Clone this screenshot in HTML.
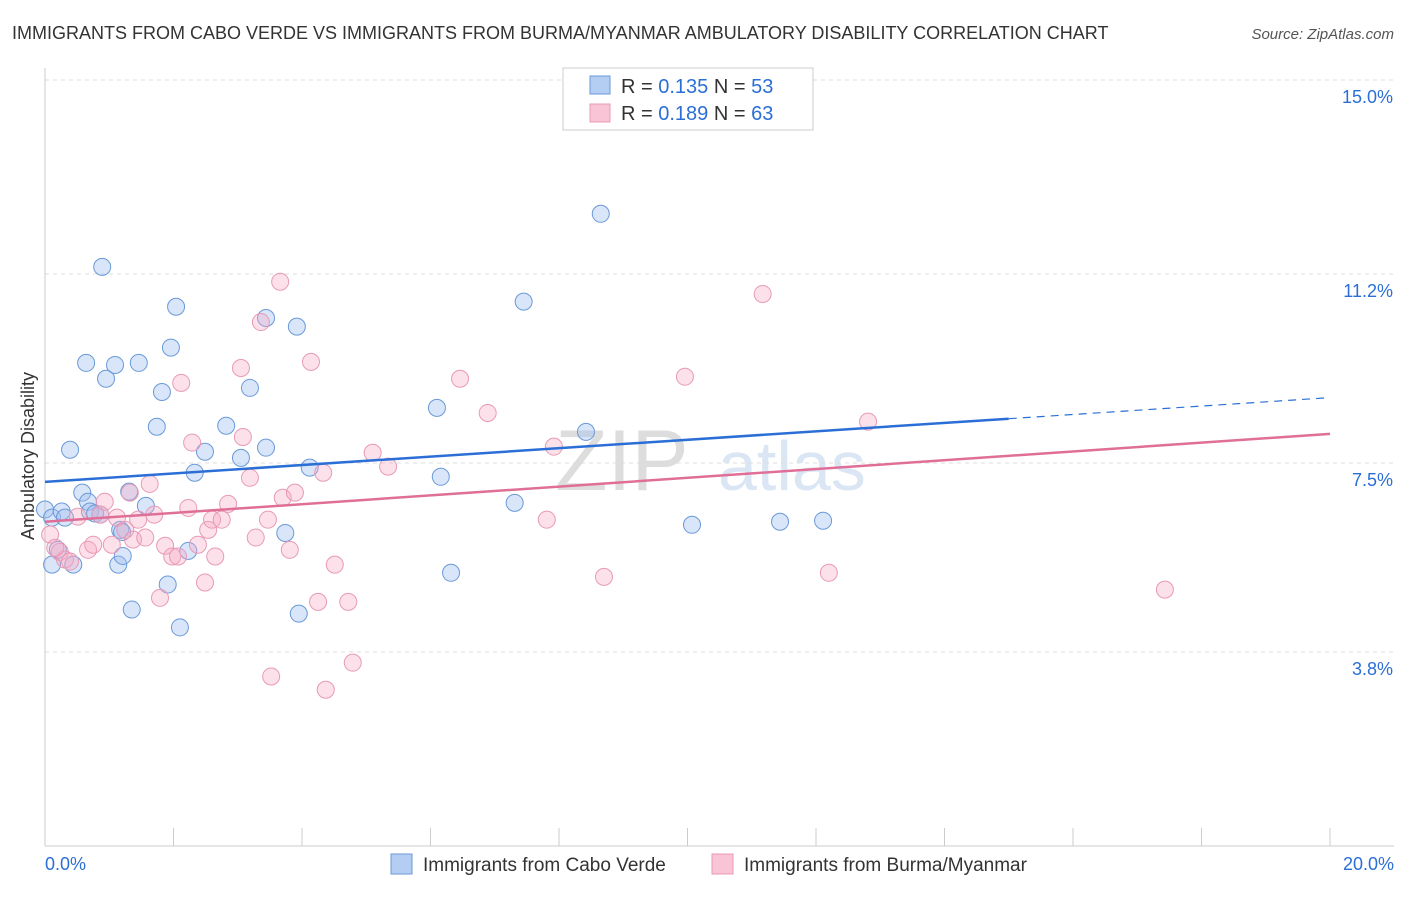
<!DOCTYPE html>
<html><head><meta charset="utf-8"><style>
body{margin:0;background:#fff;font-family:"Liberation Sans",sans-serif}
svg text{font-family:"Liberation Sans",sans-serif}
</style></head><body>
<svg id="chart" width="1406" height="892" xmlns="http://www.w3.org/2000/svg">
<text x="12" y="39" font-size="18" fill="#333">IMMIGRANTS FROM CABO VERDE VS IMMIGRANTS FROM BURMA/MYANMAR AMBULATORY DISABILITY CORRELATION CHART</text>
<text x="1394" y="39" font-size="15" fill="#555" text-anchor="end" font-style="italic">Source: ZipAtlas.com</text>
<g>
<text x="555" y="490" font-size="86" fill="#ddd" font-family="Liberation Serif">ZIP</text>
<text x="718" y="490" font-size="70" fill="#dbe6f5">atlas</text>
</g>
<g id="grid"></g>
<g id="axes"></g>
<g id="marks"></g>
<text transform="translate(34,456) rotate(-90)" font-size="18" fill="#333" text-anchor="middle">Ambulatory Disability</text>
<g>
<rect x="563" y="68" width="250" height="62" fill="#fff" stroke="#ccc"/>
<rect x="590" y="76" width="20" height="18" fill="#b4cdf2" stroke="#6a9ad8"/>
<text x="621" y="93" font-size="20" fill="#333">R = <tspan fill="#2b6fd6">0.135</tspan>   N = <tspan fill="#2b6fd6">53</tspan></text>
<rect x="590" y="104" width="20" height="18" fill="#f8c4d6" stroke="#e89ab5"/>
<text x="621" y="120" font-size="20" fill="#333">R = <tspan fill="#2b6fd6">0.189</tspan>   N = <tspan fill="#2b6fd6">63</tspan></text>
</g>
<g>
<rect x="391" y="854" width="21" height="20" fill="#b4cdf2" stroke="#6a9ad8"/>
<text x="423" y="871" font-size="19" fill="#333">Immigrants from Cabo Verde</text>
<rect x="712" y="854" width="21" height="20" fill="#f8c4d6" stroke="#e89ab5"/>
<text x="744" y="871" font-size="19" fill="#333">Immigrants from Burma/Myanmar</text>
</g>
</svg>
<script>
const yTicks=[15.0,11.2,7.5,3.8];
const yTickLabels=["15.0%","11.2%","7.5%","3.8%"];
const xTickLabels=["0.0%","20.0%"];
const blueX=[0.00,0.11,0.26,0.39,0.58,0.67,0.70,0.78,0.86,0.89,0.64,0.95,1.09,1.14,1.21,1.17,1.35,1.46,1.57,1.74,1.82,1.91,1.96,2.04,2.10,2.23,2.33,2.49,2.82,3.05,3.19,3.44,3.44,3.74,3.92,3.95,4.12,6.10,6.16,6.32,7.31,7.45,8.42,8.65,10.07,11.44,12.11,0.44,0.11,0.20,1.31,0.31,1.20];
const blueY=[6.59,6.43,6.55,7.76,6.92,6.74,6.55,6.51,6.49,11.34,9.46,9.15,9.42,5.51,5.68,6.19,4.63,9.46,6.66,8.21,8.89,5.12,9.76,10.56,4.28,5.78,7.31,7.72,8.23,7.60,8.97,10.34,7.80,6.13,10.17,4.55,7.41,8.58,7.23,5.35,6.72,10.66,8.11,12.38,6.29,6.35,6.37,5.51,5.51,5.80,6.94,6.43,6.15];
const pinkX=[0.08,0.23,0.31,0.39,0.51,0.67,0.75,0.86,0.93,1.04,1.12,1.25,1.32,1.37,1.45,1.56,1.63,1.70,1.79,1.87,1.98,2.07,2.12,2.23,2.29,2.38,2.49,2.54,2.60,2.65,2.75,2.85,3.05,3.08,3.19,3.28,3.36,3.47,3.66,3.52,3.70,3.81,3.89,4.14,4.25,4.33,4.37,4.51,4.72,4.79,5.10,5.34,6.46,6.89,7.81,7.92,8.70,9.96,11.17,12.20,12.81,17.43,0.16];
const pinkY=[6.10,5.76,5.61,5.57,6.45,5.80,5.90,6.49,6.74,5.90,6.43,6.19,6.92,6.00,6.39,6.04,7.09,6.49,4.86,5.88,5.67,5.67,9.07,6.62,7.90,5.90,5.16,6.19,6.39,5.67,6.39,6.70,9.36,8.01,7.21,6.04,10.26,6.39,11.05,3.32,6.82,5.80,6.92,9.48,4.78,7.31,3.06,5.51,4.78,3.59,7.70,7.43,9.15,8.48,6.39,7.82,5.27,9.19,10.81,5.35,8.31,5.02,5.84];
const blueTrend=[7.13,8.78];
const pinkTrend=[6.35,8.07];
const blueSolidEnd=15.0;
const NS="http://www.w3.org/2000/svg";
function sx(v){return 45+v/20*1285;}
function sy(v){return 846-v/15*766;}
function mk(tag,attrs,parent){const e=document.createElementNS(NS,tag);for(const k in attrs)e.setAttribute(k,attrs[k]);parent.appendChild(e);return e;}
const grid=document.getElementById('grid'),axes=document.getElementById('axes'),marks=document.getElementById('marks');
yTicks.forEach((t,i)=>{
  const l=mk('line',{x1:45,x2:1394,y1:sy(t),y2:sy(t),stroke:'#ddd','stroke-dasharray':'4,4'},grid);
  
  
  const tx=mk('text',{x:1393,y:sy(t)+23,'font-size':18,fill:'#2b6fd6','text-anchor':'end'},axes);
  tx.textContent=yTickLabels[i];
  
  
});
const ya=mk('line',{x1:45,x2:45,y1:68,y2:846,stroke:'#ccc'},axes);


const xa=mk('line',{x1:45,x2:1394,y1:846,y2:846,stroke:'#ccc'},axes);


for(let k=0;k<=10;k++){
  const t=mk('line',{x1:sx(k*2),x2:sx(k*2),y1:828,y2:846,stroke:'#ccc'},axes);
  
  
}
[[0,'start',45],[20,'end',1394]].forEach((p,i)=>{
  const tx=mk('text',{x:p[2],y:870,'font-size':18,fill:'#2b6fd6','text-anchor':p[1]},axes);
  tx.textContent=xTickLabels[i];
  
  
});
function pts(X,Y,fill,stroke,name){
  X.forEach((x,i)=>{
    const c=mk('circle',{cx:sx(x),cy:sy(Y[i]),r:8.5,fill:fill,stroke:stroke,'stroke-width':1},marks);
    
    
  });
}
pts(blueX,blueY,'rgba(160,190,240,0.4)','#6a9ad8','cabo-verde-point');
pts(pinkX,pinkY,'rgba(245,170,195,0.35)','#e89ab5','burma-point');
function lineAt(tr,x){return tr[0]+(tr[1]-tr[0])*x/20;}
const b1=mk('line',{x1:sx(0),y1:sy(blueTrend[0]),x2:sx(blueSolidEnd),y2:sy(lineAt(blueTrend,blueSolidEnd)),stroke:'#2b6fd6','stroke-width':2.5},marks);


const b2=mk('line',{x1:sx(blueSolidEnd),y1:sy(lineAt(blueTrend,blueSolidEnd)),x2:sx(20),y2:sy(blueTrend[1]),stroke:'#2b6fd6','stroke-width':1.2,'stroke-dasharray':'8,6'},marks);


const p1=mk('line',{x1:sx(0),y1:sy(pinkTrend[0]),x2:sx(20),y2:sy(pinkTrend[1]),stroke:'#e06f98','stroke-width':2.5},marks);


</script>
</body></html>
